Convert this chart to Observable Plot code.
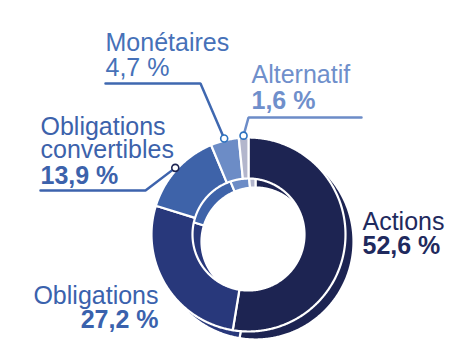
<!DOCTYPE html>
<html><head><meta charset="utf-8">
<script src="https://cdn.jsdelivr.net/npm/d3@7"></script>
<script src="https://cdn.jsdelivr.net/npm/@observablehq/plot@0.6"></script>
<style>body{margin:0;background:#fff;}</style>
</head><body><div id="chart"></div>
<script>
// ---- data ----
const categories = ["Actions", "Obligations", "Obligations convertibles", "Monétaires", "Alternatif"];
const values = [52.6, 27.2, 13.9, 4.7, 1.6];
const valueLabels = ["52,6 %", "27,2 %", "13,9 %", "4,7 %", "1,6 %"];
const nameLabels = ["Actions", "Obligations", "Obligations\nconvertibles", "Monétaires", "Alternatif"];

// ---- styles / layout ----
const sliceColors = ["#1d2452", "#28387b", "#3e63a9", "#6c8cc6", "#b3b6cc"];
const rings = [
  {id: "back", cx: 255, cy: 241, r0: 54, r1: 98},
  {id: "front", cx: 248, cy: 234, r0: 56, r1: 97}
];
const labelLayout = [
  {x: 362, nameY: 229, valueY: 253, anchor: "start", color: "#1f2a5e", valueWeight: "bold"},
  {x: 158, nameY: 303, valueY: 327, anchor: "end", color: "#3a62ad", valueWeight: "bold"},
  {x: 40, nameY: 157, valueY: 183, anchor: "start", color: "#3c62ab", valueWeight: "bold"},
  {x: 105, nameY: 50, valueY: 75, anchor: "start", color: "#4671b8", valueWeight: "normal"},
  {x: 251, nameY: 82, valueY: 108, anchor: "start", color: "#6f8fcb", valueWeight: "bold"}
];
const leaderLayout = {
  2: {elbow: [145, 190], end: [40, 190], color: "#3d63ad", dot: "#1e2553"},
  3: {elbow: [200, 83], end: [105, 83], color: "#3f68b0", dot: "#2c72bf"},
  4: {elbow: [248, 117], end: [361, 117], color: "#6c8cc8", dot: "#2c72bf"}
};

const arcs = d3.pie().sort(null)(values);
const pt = (ring, r, a) => [ring.cx + r * Math.sin(a), ring.cy - r * Math.cos(a)];

const polys = [];
for (const ring of rings) {
  arcs.forEach((arc, i) => {
    const n = Math.max(2, Math.ceil((arc.endAngle - arc.startAngle) / (Math.PI / 180) * 2));
    const key = ring.id + i;
    for (let k = 0; k <= n; k++) {
      const a = arc.startAngle + (arc.endAngle - arc.startAngle) * k / n;
      const [x, y] = pt(ring, ring.r1, a);
      polys.push({key, cat: categories[i], x, y});
    }
    for (let k = n; k >= 0; k--) {
      const a = arc.startAngle + (arc.endAngle - arc.startAngle) * k / n;
      const [x, y] = pt(ring, ring.r0, a);
      polys.push({key, cat: categories[i], x, y});
    }
  });
}

const front = rings[1];
const leaderMarks = [];
const dotMarks = [];
for (const [idx, L] of Object.entries(leaderLayout)) {
  const arc = arcs[idx];
  const mid = (arc.startAngle + arc.endAngle) / 2;
  const [dx, dy] = pt(front, front.r1 + 2, mid);
  const path = [{x: L.end[0], y: L.end[1]}, {x: L.elbow[0], y: L.elbow[1]}, {x: dx, y: dy}];
  leaderMarks.push(Plot.line(path, {x: "x", y: "y", stroke: L.color, strokeWidth: 2.5, strokeLinejoin: "miter"}));
  dotMarks.push(Plot.dot([{x: dx, y: dy}], {x: "x", y: "y", r: 3.5, fill: "white", stroke: L.dot, strokeWidth: 1.6}));
}

const textMarks = [];
labelLayout.forEach((L, i) => {
  textMarks.push(Plot.text([{x: L.x, y: L.nameY, t: nameLabels[i]}], {
    x: "x", y: "y", text: "t", textAnchor: L.anchor, lineAnchor: "bottom", lineHeight: 0.92,
    fontSize: 25, fontWeight: "normal", fill: L.color
  }));
  textMarks.push(Plot.text([{x: L.x, y: L.valueY, t: valueLabels[i]}], {
    x: "x", y: "y", text: "t", textAnchor: L.anchor, lineAnchor: "bottom",
    fontSize: 25, fontWeight: L.valueWeight, fill: L.color
  }));
});

const chart = Plot.plot({
  width: 450, height: 353, margin: 0,
  x: {type: "identity", axis: null},
  y: {type: "identity", axis: null},
  color: {domain: categories, range: sliceColors},
  style: {background: "#fff", fontFamily: "'Liberation Sans', Arial, sans-serif", overflow: "visible"},
  marks: [
    Plot.line(polys, {x: "x", y: "y", z: "key", fill: "cat", stroke: "white", strokeWidth: 2.2, curve: "linear-closed", strokeLinejoin: "round"}),
    ...leaderMarks,
    ...dotMarks,
    ...textMarks
  ]
});
document.getElementById("chart").append(chart);
</script>
</body></html>
